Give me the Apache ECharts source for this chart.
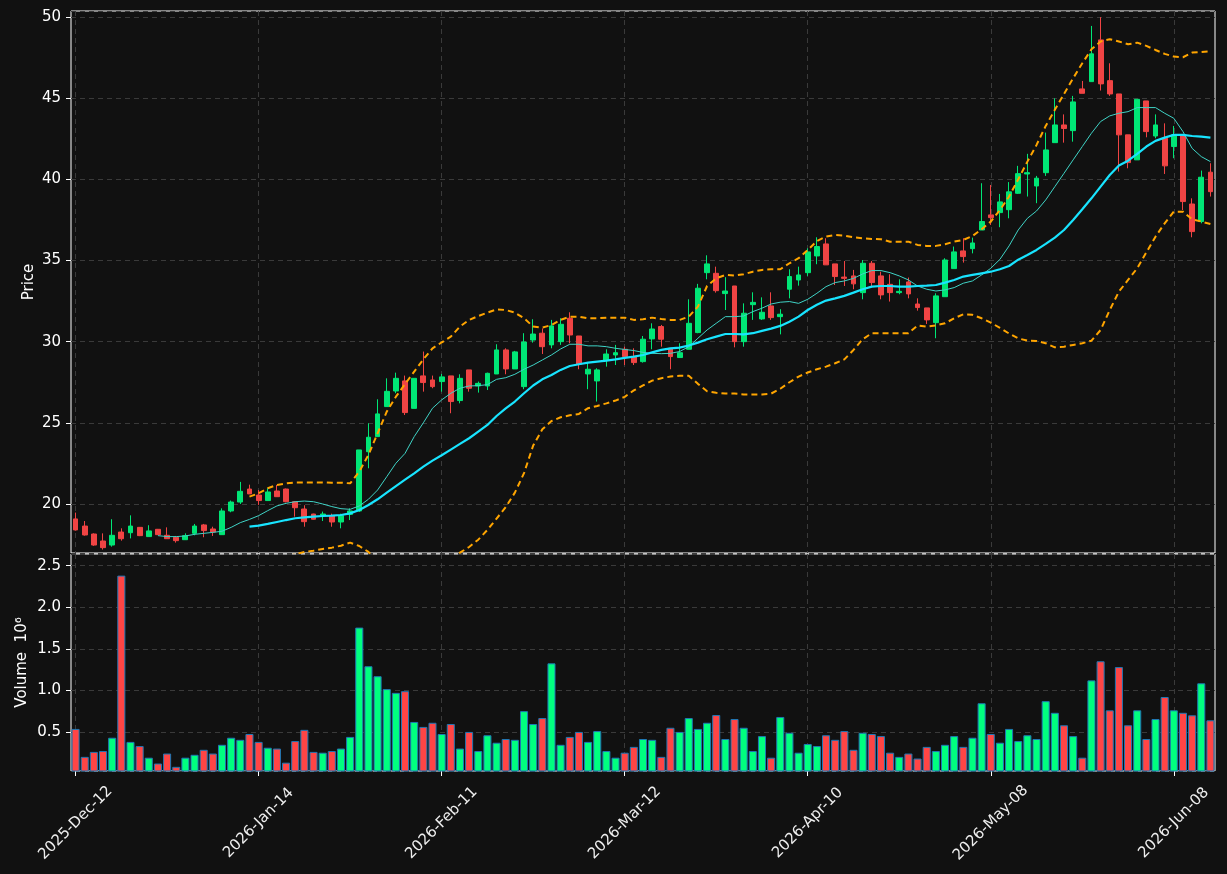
<!DOCTYPE html>
<html>
<head>
<meta charset="utf-8">
<title>Price / Volume</title>
<script src="https://cdn.jsdelivr.net/npm/echarts@6/dist/echarts.min.js"></script>
<style>
  html, body { margin: 0; padding: 0; background: #111111; }
  #chart { width: 1227px; height: 874px; }
</style>
</head>
<body>
<div id="chart"></div>
<script>
// daily candles
const openP = [19.08, 18.64, 18.15, 17.72, 17.47, 18.27, 18.23, 18.56, 17.99, 18.44,
  18.07, 17.95, 17.80, 18.19, 18.71, 18.46, 18.11, 19.57, 20.12, 20.92,
  20.55, 20.21, 20.80, 20.92, 20.14, 19.69, 19.38, 19.32, 19.28, 18.89,
  19.36, 19.57, 23.22, 24.15, 26.00, 26.96, 27.58, 25.89, 27.89, 27.64,
  27.54, 27.89, 26.37, 28.26, 27.27, 27.27, 28.01, 29.49, 28.32, 27.23,
  30.10, 30.52, 29.80, 30.00, 31.44, 30.35, 28.01, 27.58, 28.87, 29.18,
  29.53, 29.08, 28.77, 30.17, 30.93, 29.59, 29.02, 29.53, 30.56, 34.25,
  34.21, 32.96, 33.43, 30.00, 32.28, 31.40, 32.20, 31.54, 33.23, 33.80,
  34.25, 35.28, 36.02, 34.79, 33.98, 34.05, 33.02, 34.83, 34.05, 33.53,
  33.02, 33.68, 32.32, 32.08, 31.17, 32.77, 34.50, 35.59, 35.73, 36.88,
  37.81, 37.95, 38.13, 39.14, 40.33, 39.59, 40.41, 42.26, 43.35, 43.00,
  45.57, 46.02, 48.59, 46.08, 45.26, 42.74, 41.20, 44.83, 42.67, 42.53,
  42.02, 42.74, 38.48, 37.40, 40.44]
const highP = [19.47, 18.95, 18.19, 18.19, 19.06, 18.50, 19.30, 18.58, 18.69, 18.46,
  18.56, 18.03, 18.19, 18.77, 18.77, 18.60, 19.73, 20.21, 21.36, 21.19,
  20.86, 20.97, 21.17, 20.95, 20.16, 19.92, 19.40, 19.53, 19.40, 19.40,
  19.73, 23.33, 24.97, 26.45, 27.74, 28.09, 27.91, 27.74, 29.39, 27.91,
  28.01, 27.89, 27.99, 28.26, 27.54, 28.09, 29.84, 29.59, 29.43, 30.52,
  31.38, 30.82, 31.34, 31.44, 31.81, 30.35, 28.73, 28.36, 29.53, 29.80,
  29.69, 29.59, 30.35, 31.13, 31.03, 29.59, 29.90, 32.61, 33.56, 35.32,
  34.62, 33.97, 33.43, 32.36, 33.04, 32.73, 33.04, 32.00, 34.46, 34.62,
  35.75, 36.43, 36.37, 34.79, 34.97, 34.42, 35.03, 34.97, 34.31, 34.15,
  33.84, 33.95, 32.67, 32.08, 32.98, 35.14, 35.86, 36.37, 36.41, 39.76,
  39.65, 39.10, 39.83, 40.83, 41.57, 40.21, 42.88, 44.99, 44.00, 45.14,
  46.06, 49.45, 49.99, 47.15, 45.26, 42.74, 44.93, 44.83, 44.00, 43.45,
  43.29, 42.74, 38.83, 40.54, 40.99]
const lowP = [18.36, 18.05, 17.42, 17.19, 17.37, 17.74, 17.88, 18.02, 17.99, 18.11,
  17.86, 17.62, 17.78, 18.07, 17.95, 18.03, 18.11, 19.49, 20.00, 20.62,
  19.94, 20.21, 20.45, 20.10, 19.22, 18.60, 19.04, 18.95, 18.60, 18.50,
  19.01, 19.51, 22.20, 24.15, 26.00, 26.82, 25.48, 25.89, 26.92, 27.13,
  26.92, 25.59, 26.20, 26.92, 26.86, 27.02, 28.01, 27.99, 28.32, 27.07,
  29.94, 29.24, 29.59, 29.80, 29.90, 28.30, 27.07, 26.31, 28.46, 28.56,
  28.56, 28.56, 28.71, 29.53, 29.69, 28.30, 29.02, 29.53, 30.52, 33.84,
  33.02, 31.95, 29.65, 29.69, 31.34, 31.34, 31.34, 30.45, 32.67, 33.45,
  34.05, 34.77, 34.73, 33.49, 33.43, 33.23, 32.61, 33.39, 32.61, 32.47,
  32.92, 32.67, 31.91, 31.09, 30.21, 32.77, 34.50, 34.87, 35.44, 36.88,
  37.19, 37.05, 37.60, 39.10, 38.94, 38.53, 40.21, 42.26, 42.26, 42.32,
  45.30, 46.02, 45.47, 45.14, 40.48, 40.68, 41.20, 42.59, 42.53, 40.33,
  41.30, 38.11, 36.43, 37.29, 38.94]
const closeP = [18.40, 18.09, 17.47, 17.31, 18.07, 17.86, 18.64, 18.05, 18.34, 18.11,
  17.86, 17.74, 18.05, 18.64, 18.36, 18.27, 19.57, 20.12, 20.78, 20.62,
  20.21, 20.74, 20.45, 20.14, 19.77, 18.91, 19.06, 19.38, 18.89, 19.28,
  19.57, 23.33, 24.11, 25.55, 26.94, 27.74, 25.63, 27.74, 27.48, 27.23,
  27.83, 26.31, 27.74, 27.13, 27.43, 28.05, 29.49, 28.32, 29.37, 29.98,
  30.47, 29.69, 30.97, 31.07, 30.41, 28.61, 28.30, 28.26, 29.24, 29.32,
  29.08, 28.71, 30.15, 30.78, 30.15, 29.08, 29.32, 31.13, 33.29, 34.79,
  33.14, 33.12, 30.00, 31.75, 32.42, 31.81, 31.48, 31.69, 34.01, 34.11,
  35.53, 35.86, 34.73, 34.01, 33.90, 33.56, 34.83, 33.64, 32.88, 33.02,
  33.10, 32.94, 32.10, 31.34, 32.82, 35.03, 35.53, 35.24, 36.08, 37.40,
  37.64, 38.61, 39.23, 40.35, 40.41, 40.07, 41.81, 43.35, 43.13, 44.77,
  45.30, 47.73, 45.88, 45.26, 42.74, 41.03, 44.93, 42.94, 43.35, 40.83,
  42.74, 38.63, 36.78, 40.13, 39.24]
// volume in millions
const volume = [0.536, 0.20, 0.26, 0.27, 0.43, 2.38, 0.38, 0.33, 0.19, 0.12,
  0.24, 0.08, 0.19, 0.225, 0.285, 0.24, 0.345, 0.43, 0.405, 0.475,
  0.38, 0.31, 0.30, 0.13, 0.39, 0.525, 0.26, 0.25, 0.27, 0.30,
  0.44, 1.755, 1.29, 1.17, 1.015, 0.97, 0.99, 0.62, 0.56, 0.61,
  0.475, 0.595, 0.30, 0.50, 0.27, 0.46, 0.37, 0.415, 0.405, 0.75,
  0.595, 0.667, 1.325, 0.345, 0.44, 0.50, 0.38, 0.51, 0.27, 0.19,
  0.25, 0.32, 0.415, 0.405, 0.20, 0.55, 0.50, 0.667, 0.536, 0.61,
  0.703, 0.415, 0.655, 0.55, 0.27, 0.45, 0.19, 0.68, 0.49, 0.25,
  0.355, 0.33, 0.46, 0.405, 0.51, 0.285, 0.49, 0.475, 0.45, 0.25,
  0.20, 0.24, 0.18, 0.32, 0.27, 0.345, 0.45, 0.32, 0.43, 0.845,
  0.475, 0.37, 0.536, 0.39, 0.46, 0.415, 0.87, 0.73, 0.58, 0.45,
  0.19, 1.12, 1.35, 0.76, 1.28, 0.58, 0.76, 0.415, 0.655, 0.92,
  0.76, 0.73, 0.70, 1.085, 0.64]
// overlay lines (null = not drawn yet)
const ma10 = [null, null, null, null, null, null, null, null, null, 18.05,
  17.99, 17.99, 18.03, 18.13, 18.19, 18.25, 18.32, 18.56, 18.85, 19.05,
  19.28, 19.59, 19.88, 20.04, 20.14, 20.18, 20.14, 20.00, 19.84, 19.71,
  19.67, 19.88, 20.29, 20.86, 21.68, 22.51, 23.12, 24.15, 25.00, 25.90,
  26.41, 26.82, 27.13, 27.27, 27.29, 27.35, 27.68, 27.78, 27.99, 28.30,
  28.56, 28.87, 29.18, 29.55, 29.84, 29.84, 29.74, 29.74, 29.69, 29.59,
  29.52, 29.45, 29.34, 29.28, 29.26, 29.28, 29.39, 29.69, 30.21, 30.72,
  31.13, 31.54, 31.54, 31.58, 31.85, 32.06, 32.32, 32.43, 32.47, 32.36,
  32.61, 32.98, 33.39, 33.64, 33.74, 33.90, 34.17, 34.38, 34.38, 34.25,
  34.05, 33.80, 33.43, 33.23, 33.12, 33.19, 33.33, 33.60, 33.74, 34.11,
  34.52, 35.07, 35.90, 36.88, 37.60, 38.05, 38.73, 39.55, 40.37, 41.20,
  42.02, 42.84, 43.56, 43.91, 44.07, 44.17, 44.42, 44.42, 44.42, 44.07,
  43.76, 42.94, 41.91, 41.40, 41.09]
const ma20 = [null, null, null, null, null, null, null, null, null, null,
  null, null, null, null, null, null, null, null, null, 18.60,
  18.67, 18.77, 18.89, 19.01, 19.12, 19.18, 19.22, 19.26, 19.28, 19.32,
  19.42, 19.63, 19.94, 20.29, 20.70, 21.10, 21.50, 21.89, 22.30, 22.67,
  23.00, 23.35, 23.70, 24.05, 24.46, 24.87, 25.42, 25.89, 26.31, 26.82,
  27.30, 27.68, 27.95, 28.26, 28.50, 28.61, 28.71, 28.77, 28.83, 28.91,
  29.00, 29.08, 29.18, 29.34, 29.49, 29.59, 29.63, 29.76, 29.94, 30.15,
  30.31, 30.47, 30.47, 30.45, 30.52, 30.66, 30.80, 30.97, 31.23, 31.54,
  31.95, 32.27, 32.53, 32.67, 32.82, 33.02, 33.23, 33.39, 33.43, 33.43,
  33.39, 33.39, 33.43, 33.45, 33.49, 33.64, 33.80, 34.01, 34.11, 34.21,
  34.31, 34.46, 34.66, 35.05, 35.34, 35.65, 36.02, 36.41, 36.88, 37.50,
  38.16, 38.83, 39.55, 40.27, 40.85, 41.15, 41.57, 42.02, 42.37, 42.57,
  42.74, 42.74, 42.67, 42.63, 42.57]
const bbUpper = [null, null, null, null, null, null, null, null, null, null,
  null, null, null, null, null, null, null, null, null, 20.45,
  20.66, 20.97, 21.17, 21.27, 21.33, 21.33, 21.33, 21.33, 21.31, 21.31,
  21.27, 21.99, 23.02, 24.35, 25.69, 26.61, 27.39, 28.15, 28.91, 29.59,
  29.95, 30.31, 30.93, 31.34, 31.58, 31.79, 31.99, 31.95, 31.79, 31.44,
  30.93, 30.86, 31.03, 31.34, 31.54, 31.54, 31.44, 31.44, 31.48, 31.48,
  31.48, 31.34, 31.38, 31.48, 31.40, 31.34, 31.34, 31.54, 32.16, 33.43,
  33.90, 34.11, 34.07, 34.15, 34.31, 34.42, 34.46, 34.46, 34.83, 35.14,
  35.65, 36.20, 36.47, 36.57, 36.53, 36.43, 36.37, 36.33, 36.31, 36.16,
  36.16, 36.16, 35.96, 35.90, 35.90, 36.00, 36.16, 36.27, 36.51, 36.92,
  37.40, 38.11, 38.94, 40.00, 41.09, 42.12, 43.29, 44.28, 45.26, 46.23,
  47.15, 48.01, 48.49, 48.63, 48.49, 48.32, 48.42, 48.22, 47.97, 47.73,
  47.56, 47.52, 47.81, 47.85, 47.89]
const bbLower = [null, null, null, null, null, null, null, null, null, null,
  null, null, null, null, null, null, null, null, null, 16.75,
  16.70, 16.60, 16.60, 16.75, 16.90, 17.05, 17.12, 17.23, 17.31, 17.43,
  17.62, 17.41, 17.05, 16.40, 15.80, 15.70, 15.60, 15.60, 15.70, 15.80,
  16.10, 16.60, 17.00, 17.35, 17.80, 18.40, 19.10, 19.80, 20.70, 21.90,
  23.60, 24.60, 25.11, 25.34, 25.46, 25.55, 25.90, 26.04, 26.20, 26.37,
  26.60, 27.00, 27.30, 27.60, 27.75, 27.85, 27.90, 27.90, 27.40, 26.95,
  26.85, 26.80, 26.80, 26.75, 26.75, 26.75, 26.80, 27.10, 27.50, 27.85,
  28.10, 28.30, 28.46, 28.67, 28.91, 29.49, 30.15, 30.52, 30.52, 30.52,
  30.52, 30.52, 31.00, 30.93, 31.00, 31.13, 31.44, 31.69, 31.65, 31.44,
  31.17, 30.85, 30.50, 30.20, 30.06, 30.04, 29.90, 29.65, 29.69, 29.80,
  29.90, 30.06, 30.72, 31.95, 33.08, 33.80, 34.52, 35.50, 36.47, 37.29,
  38.01, 38.01, 37.54, 37.40, 37.25]
// x tick labels and the bar they sit under
const tickBars = [0, 20, 40, 60, 80, 100, 120]
const tickLabels = ['2025-Dec-12', '2026-Jan-14', '2026-Feb-11', '2026-Mar-12', '2026-Apr-10', '2026-May-08', '2026-Jun-08']

const upColor = '#00e676'
const downColor = '#f04444'
const volUp = '#00ff7f'
const volDown = '#ff4545'
const gridColor = '#3a3a3a'
const font = 'DejaVu Sans'

const bars = openP.map((_, i) => String(i))
// half-bar steps, used only to put grid lines / ticks on bar centres
const halfSteps = []
for (let k = 0; k <= bars.length * 2; k++) halfSteps.push(String(k))
const isTick = (k) => k % 2 === 1 && tickBars.indexOf((k - 1) / 2) >= 0

const candles = openP.map((o, i) => [o, closeP[i], lowP[i], highP[i]])
const volBars = volume.map((v, i) => ({
  value: v,
  itemStyle: { color: closeP[i] >= openP[i] ? volUp : volDown }
}))

const chart = echarts.init(document.getElementById('chart'))

function overlayX(gridIndex, withLabels) {
  return {
    type: 'category',
    gridIndex: gridIndex,
    data: halfSteps,
    boundaryGap: false,
    position: 'bottom',
    axisLine: { show: false },
    axisTick: {
      show: withLabels,
      interval: (k) => isTick(k),
      length: 5,
      lineStyle: { color: '#ffffff' }
    },
    axisLabel: {
      show: withLabels,
      interval: (k) => isTick(k),
      formatter: (val) => tickLabels[tickBars.indexOf((Number(val) - 1) / 2)],
      rotate: 45,
      align: 'center',
      verticalAlign: 'middle',
      margin: 52,
      color: '#eeeeee',
      fontFamily: font,
      fontSize: 15
    },
    splitLine: {
      show: true,
      interval: (k) => isTick(k),
      lineStyle: { color: gridColor, type: [5, 4], width: 1 }
    }
  }
}

function lineSeries(name, data, color, width, dashed) {
  return {
    name: name,
    type: 'line',
    xAxisIndex: 0,
    yAxisIndex: 0,
    data: data,
    showSymbol: false,
    symbol: 'none',
    z: 5,
    lineStyle: { color: color, width: width, type: dashed ? [6, 4] : 'solid' }
  }
}

const option = {
  backgroundColor: '#111111',
  animation: false,
  textStyle: { fontFamily: font },
  grid: [
    { left: 71, right: 12, top: 11, height: 542, show: true, borderColor: '#ffffff', borderWidth: 1, backgroundColor: 'transparent' },
    { left: 71, right: 12, top: 554, height: 217, show: true, borderColor: '#ffffff', borderWidth: 1, backgroundColor: 'transparent' }
  ],
  xAxis: [
    { type: 'category', gridIndex: 0, data: bars, boundaryGap: true, show: false },
    overlayX(0, false),
    { type: 'category', gridIndex: 1, data: bars, boundaryGap: true, show: false },
    overlayX(1, true)
  ],
  yAxis: [
    {
      type: 'value',
      gridIndex: 0,
      min: 16.98,
      max: 50.37,
      splitNumber: 7,
      name: 'Price',
      nameLocation: 'middle',
      nameGap: 34,
      nameMoveOverlap: false,
      nameTextStyle: { color: '#ffffff', fontSize: 15, fontFamily: font },
      axisLine: { show: false },
      axisTick: { show: true, length: 5, lineStyle: { color: '#ffffff' } },
      axisLabel: {
        color: '#ffffff', fontSize: 15, fontFamily: font, margin: 10,
        showMinLabel: false, showMaxLabel: false,
        formatter: (v) => String(Math.round(v))
      },
      splitLine: { show: true, lineStyle: { color: gridColor, type: [5, 4], width: 1 } }
    },
    {
      type: 'value',
      gridIndex: 1,
      min: 0.03,
      max: 2.64,
      splitNumber: 5,
      name: 'Volume  10⁶',
      nameLocation: 'middle',
      nameGap: 41,
      nameMoveOverlap: false,
      nameTextStyle: { color: '#ffffff', fontSize: 15, fontFamily: font },
      axisLine: { show: false },
      axisTick: { show: true, length: 5, lineStyle: { color: '#ffffff' } },
      axisLabel: {
        color: '#ffffff', fontSize: 15, fontFamily: font, margin: 10,
        showMinLabel: false, showMaxLabel: false,
        formatter: (v) => v.toFixed(1)
      },
      splitLine: { show: true, lineStyle: { color: gridColor, type: [5, 4], width: 1 } }
    }
  ],
  series: [
    {
      name: 'candles',
      type: 'candlestick',
      xAxisIndex: 0,
      yAxisIndex: 0,
      data: candles,
      barWidth: '58%',
      z: 3,
      itemStyle: {
        color: upColor,
        color0: downColor,
        borderColor: upColor,
        borderColor0: downColor,
        borderWidth: 1
      }
    },
    lineSeries('MA10', ma10, '#3fd3c6', 1, false),
    lineSeries('MA20', ma20, '#18e4ff', 2.2, false),
    lineSeries('BB upper', bbUpper, '#ffa500', 2, true),
    lineSeries('BB lower', bbLower, '#ffa500', 2, true),
    {
      name: 'volume',
      type: 'bar',
      xAxisIndex: 2,
      yAxisIndex: 1,
      data: volBars,
      barWidth: '88%',
      itemStyle: { borderColor: '#1f77b4', borderWidth: 1 }
    }
  ]
}

chart.setOption(option)
</script>
</body>
</html>
